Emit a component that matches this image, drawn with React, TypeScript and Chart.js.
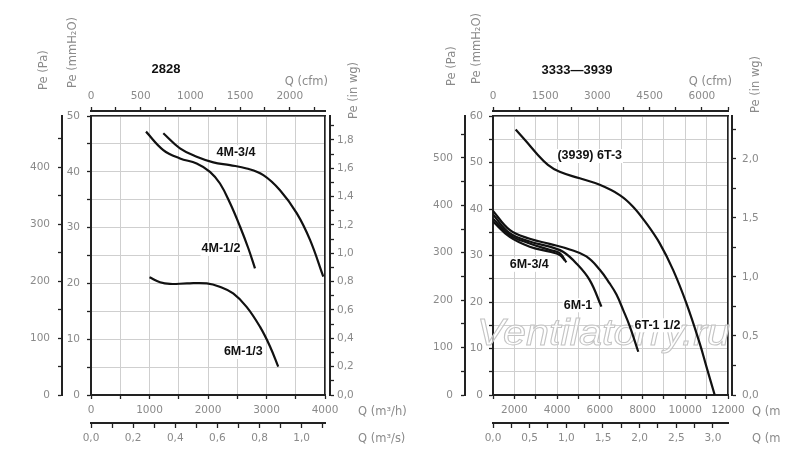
import React, { useEffect, useRef } from 'react';
import { Chart, registerables } from 'chart.js';
Chart.register(...registerables);

// ---- 2828: Q (m3/h) / Pe (mmH2O)
const q4M34 = [1236, 1521, 1806, 2091, 2376, 2661, 2946, 3231, 3516, 3744, 3971];
const pe4M34 = [46.9, 44.2, 42.7, 41.7, 41.2, 40.6, 39.4, 36.7, 32.6, 27.8, 21.2];
const q4M12 = [940, 1236, 1521, 1806, 2034, 2205, 2376, 2547, 2689, 2803];
const pe4M12 = [47.2, 43.9, 42.4, 41.5, 40.0, 37.9, 34.4, 30.2, 26.3, 22.7];
const q6M13 = [1000, 1180, 1350, 1640, 1980, 2200, 2430, 2660, 2890, 3060, 3200];
const pe6M13 = [21.1, 20.2, 19.9, 20.0, 20.0, 19.4, 18.2, 15.8, 12.2, 8.7, 5.1];

// ---- 3333-3939
const q6T3 = [2060, 2560, 3030, 3570, 4120, 5059, 5995, 6932, 7556, 8181, 8805, 9429, 10054, 10677, 10990, 11379];
const pe6T3 = [57.1, 54.5, 52.0, 49.5, 48.0, 46.6, 45.2, 43.0, 40.5, 36.9, 32.6, 26.9, 19.7, 11.1, 6.1, 0];
const q6T112 = [1000, 1780, 2720, 3650, 4590, 5370, 5990, 6460, 6780, 7090, 7400, 7800];
const pe6T112 = [39.6, 35.5, 33.6, 32.5, 31.3, 29.8, 27.0, 24.0, 21.6, 18.3, 14.8, 9.3];
const q6M1 = [1000, 1782, 2718, 3654, 4277, 4903, 5527, 6075];
const pe6M1 = [38.8, 34.8, 33.0, 31.9, 30.8, 28.3, 24.7, 19.0];
const q6M34 = [1000, 1782, 2718, 3654, 4122, 4434];
const pe6M34 = [37.9, 34.4, 32.6, 31.2, 30.5, 28.5];
const q6Mx = [1000, 1782, 2718, 3654, 4122, 4357];
const pe6Mx = [37.3, 34.0, 31.9, 30.8, 30.1, 29.0];

// curve names and where they sit (Q, Pe)
const labels2828 = ['4M-3/4', '4M-1/2', '6M-1/3'];
const labelQ2828 = [2479, 2222, 2604];
const labelPe2828 = [43.5, 26.2, 7.7];
const labels3939 = ['(3939) 6T-3', '6M-3/4', '6M-1', '6T-1 1/2'];
const labelQ3939 = [5527, 2700, 4979, 8697];
const labelPe3939 = [51.4, 28.0, 19.3, 15.0];

const AXIS = '#222';
const GRID = '#cfcfcf';
const TXT = '#8a8a8a';
const TICK_FONT = { family: 'DejaVu Sans', size: 10.5 };
const PA_PER_MM = 9.80665;
const MM_PER_IN = 25.4;
const M3H_PER_CFM = 1.699;

const fmt = (v: number, every: number, dec: number) => {
  const r = v / every;
  if (Math.abs(r - Math.round(r)) > 1e-6) return '';
  return dec ? v.toFixed(dec).replace('.', ',') : String(Math.round(v));
};

const sized = (size: number) => (s: any) => {
  if (s.isHorizontal()) s.height = size;
  else s.width = size;
};

function axis(o: any) {
  return {
    type: 'linear',
    position: o.position,
    weight: o.weight,
    min: o.min,
    max: o.max,
    afterFit: sized(o.size),
    border: { display: true, color: AXIS, width: 2 },
    grid: {
      display: true,
      drawOnChartArea: !!o.grid,
      color: GRID,
      lineWidth: 1,
      tickColor: AXIS,
      tickLength: o.tick ?? 4,
      tickWidth: 1.3,
    },
    ticks: {
      stepSize: o.step,
      includeBounds: false,
      autoSkip: false,
      maxRotation: 0,
      padding: o.pad,
      color: TXT,
      font: TICK_FONT,
      callback: (v: number) => fmt(v, o.every, o.dec ?? 0),
    },
  };
}

function gap(position: string, weight: number, size: number) {
  return {
    type: 'linear',
    position,
    weight,
    min: 0,
    max: 1,
    afterFit: sized(size),
    border: { display: true, color: AXIS, width: 1.6 },
    grid: { display: false, drawTicks: false },
    ticks: { display: false },
  };
}

type Txt = { text: string; x: number; y: number; align?: CanvasTextAlign; rot?: boolean; bold?: boolean };

const panel2828 = {
  left: 0,
  width: 430,
  clipRight: 430,
  padding: { left: 28, right: 65, top: 89, bottom: 22 },
  curves: [
    [q4M34, pe4M34],
    [q4M12, pe4M12],
    [q6M13, pe6M13],
  ],
  names: labels2828,
  nameQ: labelQ2828,
  namePe: labelPe2828,
  scales: {
    x: axis({ position: 'bottom', weight: 0, min: 0, max: 4000, step: 500, every: 1000, size: 28, grid: true, pad: 5 }),
    x2: axis({ position: 'bottom', weight: 2, min: 0, max: 4000 / 3600, step: 0.1, every: 0.2, dec: 1, size: 25, pad: 4, tick: 5 }),
    xTop: axis({ position: 'top', weight: 2, min: 0, max: 4000 / M3H_PER_CFM, step: 250, every: 500, size: 22, pad: 4 }),
    gapTop: gap('top', 1, 5),
    y: axis({ position: 'left', weight: 0, min: 0, max: 50, step: 5, every: 10, size: 29, grid: true, pad: 7 }),
    yPa: axis({ position: 'left', weight: 2, min: 0, max: 50 * PA_PER_MM, step: 50, every: 100, size: 34, pad: 8 }),
    gapRight: gap('right', 1, 5),
    yIn: axis({ position: 'right', weight: 2, min: 0, max: 50 / MM_PER_IN, step: 0.1, every: 0.2, dec: 1, size: 35, pad: 3 }),
  },
  texts: [
    { text: '2828', x: 166, y: 69, bold: true },
    { text: 'Pe (Pa)', x: 44, y: 90, rot: true },
    { text: 'Pe (mmH\u2082O)', x: 73, y: 88, rot: true },
    { text: 'Q (cfm)', x: 328, y: 82, align: 'right' },
    { text: 'Pe (in wg)', x: 354, y: 119, rot: true },
    { text: 'Q (m\u00b3/h)', x: 358, y: 412, align: 'left' },
    { text: 'Q (m\u00b3/s)', x: 358, y: 439, align: 'left' },
  ] as Txt[],
  watermark: false,
};

const panel3939 = {
  left: 400,
  width: 400,
  clipRight: 381,
  padding: { left: 31, right: 33, top: 89, bottom: 22 },
  curves: [
    [q6T3, pe6T3],
    [q6T112, pe6T112],
    [q6M1, pe6M1],
    [q6M34, pe6M34],
    [q6Mx, pe6Mx],
  ],
  names: labels3939,
  nameQ: labelQ3939,
  namePe: labelPe3939,
  scales: {
    x: axis({ position: 'bottom', weight: 0, min: 1000, max: 12000, step: 1000, every: 2000, size: 28, grid: true, pad: 5 }),
    x2: axis({ position: 'bottom', weight: 2, min: 0, max: 3.205, step: 0.25, every: 0.5, dec: 1, size: 25, pad: 4, tick: 5 }),
    xTop: axis({ position: 'top', weight: 2, min: 0, max: 6750, step: 750, every: 1500, size: 22, pad: 4 }),
    gapTop: gap('top', 1, 5),
    y: axis({ position: 'left', weight: 0, min: 0, max: 60, step: 5, every: 10, size: 28, grid: true, pad: 6 }),
    yPa: axis({ position: 'left', weight: 2, min: 0, max: 60 * PA_PER_MM, step: 50, every: 100, size: 34, pad: 8 }),
    gapRight: gap('right', 1, 4),
    yIn: axis({ position: 'right', weight: 2, min: 0, max: 60 / MM_PER_IN, step: 0.25, every: 0.5, dec: 1, size: 35, pad: 6 }),
  },
  texts: [
    { text: '3333\u20143939', x: 177, y: 70, bold: true },
    { text: 'Pe (Pa)', x: 52, y: 86, rot: true },
    { text: 'Pe (mmH\u2082O)', x: 77, y: 84, rot: true },
    { text: 'Q (cfm)', x: 332, y: 82, align: 'right' },
    { text: 'Pe (in wg)', x: 356, y: 113, rot: true },
    { text: 'Q (m\u00b3/h)', x: 352, y: 412, align: 'left' },
    { text: 'Q (m\u00b3/s)', x: 352, y: 439, align: 'left' },
  ] as Txt[],
  watermark: true,
};

type PanelCfg = typeof panel2828;

const Panel: React.FC<{ p: PanelCfg }> = ({ p }) => {
  const ref = useRef<HTMLCanvasElement>(null);
  const chartRef = useRef<Chart | null>(null);

  useEffect(() => {
    if (!ref.current) return;
    if (chartRef.current) chartRef.current.destroy();

    const plugin = {
      id: 'panelText',
      beforeDatasetsDraw(chart: any) {
        if (!p.watermark) return;
        const ctx = chart.ctx as CanvasRenderingContext2D;
        ctx.save();
        ctx.font = 'italic 37px "Liberation Sans", Arial, sans-serif';
        ctx.textAlign = 'left';
        ctx.textBaseline = 'alphabetic';
        const wm = 'Ventilatorry.ru';
        const w = ctx.measureText(wm).width;
        ctx.translate(77, 345);
        ctx.scale(253 / w, 1);
        ctx.fillStyle = 'rgba(255,255,255,0.6)';
        ctx.fillText(wm, 0, 0);
        ctx.strokeStyle = '#c4c4c4';
        ctx.lineWidth = 1;
        ctx.strokeText(wm, 0, 0);
        ctx.restore();
      },
      afterDatasetsDraw(chart: any) {
        const ctx = chart.ctx as CanvasRenderingContext2D;
        const sx = chart.scales.x;
        const sy = chart.scales.y;
        ctx.save();
        // curve names on white boxes
        ctx.font = 'bold 12.5px "Liberation Sans", Arial, sans-serif';
        ctx.textAlign = 'center';
        ctx.textBaseline = 'middle';
        p.names.forEach((name, i) => {
          const px = sx.getPixelForValue(p.nameQ[i]);
          const py = sy.getPixelForValue(p.namePe[i]);
          const w = ctx.measureText(name).width;
          ctx.fillStyle = '#fff';
          ctx.fillRect(px - w / 2 - 1, py - 7, w + 2, 14);
          ctx.fillStyle = '#111';
          ctx.fillText(name, px, py);
        });
        ctx.restore();
      },
      afterDraw(chart: any) {
        const ctx = chart.ctx as CanvasRenderingContext2D;
        ctx.save();
        ctx.beginPath();
        ctx.rect(0, 0, p.clipRight, 470);
        ctx.clip();
        p.texts.forEach((t) => {
          ctx.save();
          ctx.fillStyle = t.bold ? '#111' : TXT;
          ctx.font = t.bold ? 'bold 13px "Liberation Sans", Arial, sans-serif' : '11.5px "DejaVu Sans", sans-serif';
          ctx.textBaseline = 'middle';
          if (t.rot) {
            ctx.translate(t.x, t.y);
            ctx.rotate(-Math.PI / 2);
            ctx.textAlign = 'left';
            ctx.fillText(t.text, 0, 0);
          } else {
            ctx.textAlign = t.align ?? 'center';
            ctx.fillText(t.text, t.x, t.y);
          }
          ctx.restore();
        });
        ctx.restore();
      },
    };

    chartRef.current = new Chart(ref.current, {
      type: 'line',
      data: {
        datasets: p.curves.map(([qs, pes]) => ({
          data: qs.map((q, i) => ({ x: q, y: pes[i] })),
          borderColor: '#111',
          borderWidth: 2.2,
          pointRadius: 0,
          fill: false,
          tension: 0.4,
          xAxisID: 'x',
          yAxisID: 'y',
        })),
      },
      options: {
        responsive: false,
        animation: false,
        events: [],
        layout: { padding: p.padding },
        plugins: { legend: { display: false }, tooltip: { enabled: false } },
        scales: p.scales as any,
      },
      plugins: [plugin],
    } as any);

    return () => {
      chartRef.current?.destroy();
      chartRef.current = null;
    };
  }, [p]);

  return (
    <canvas
      ref={ref}
      width={p.width}
      height={470}
      style={{ position: 'absolute', left: p.left, top: 0, width: p.width, height: 470 }}
    />
  );
};

export default function App() {
  return (
    <div style={{ position: 'fixed', left: 0, top: 0, width: 800, height: 470, background: '#fff', overflow: 'hidden' }}>
      <Panel p={panel2828} />
      <Panel p={panel3939} />
    </div>
  );
}
